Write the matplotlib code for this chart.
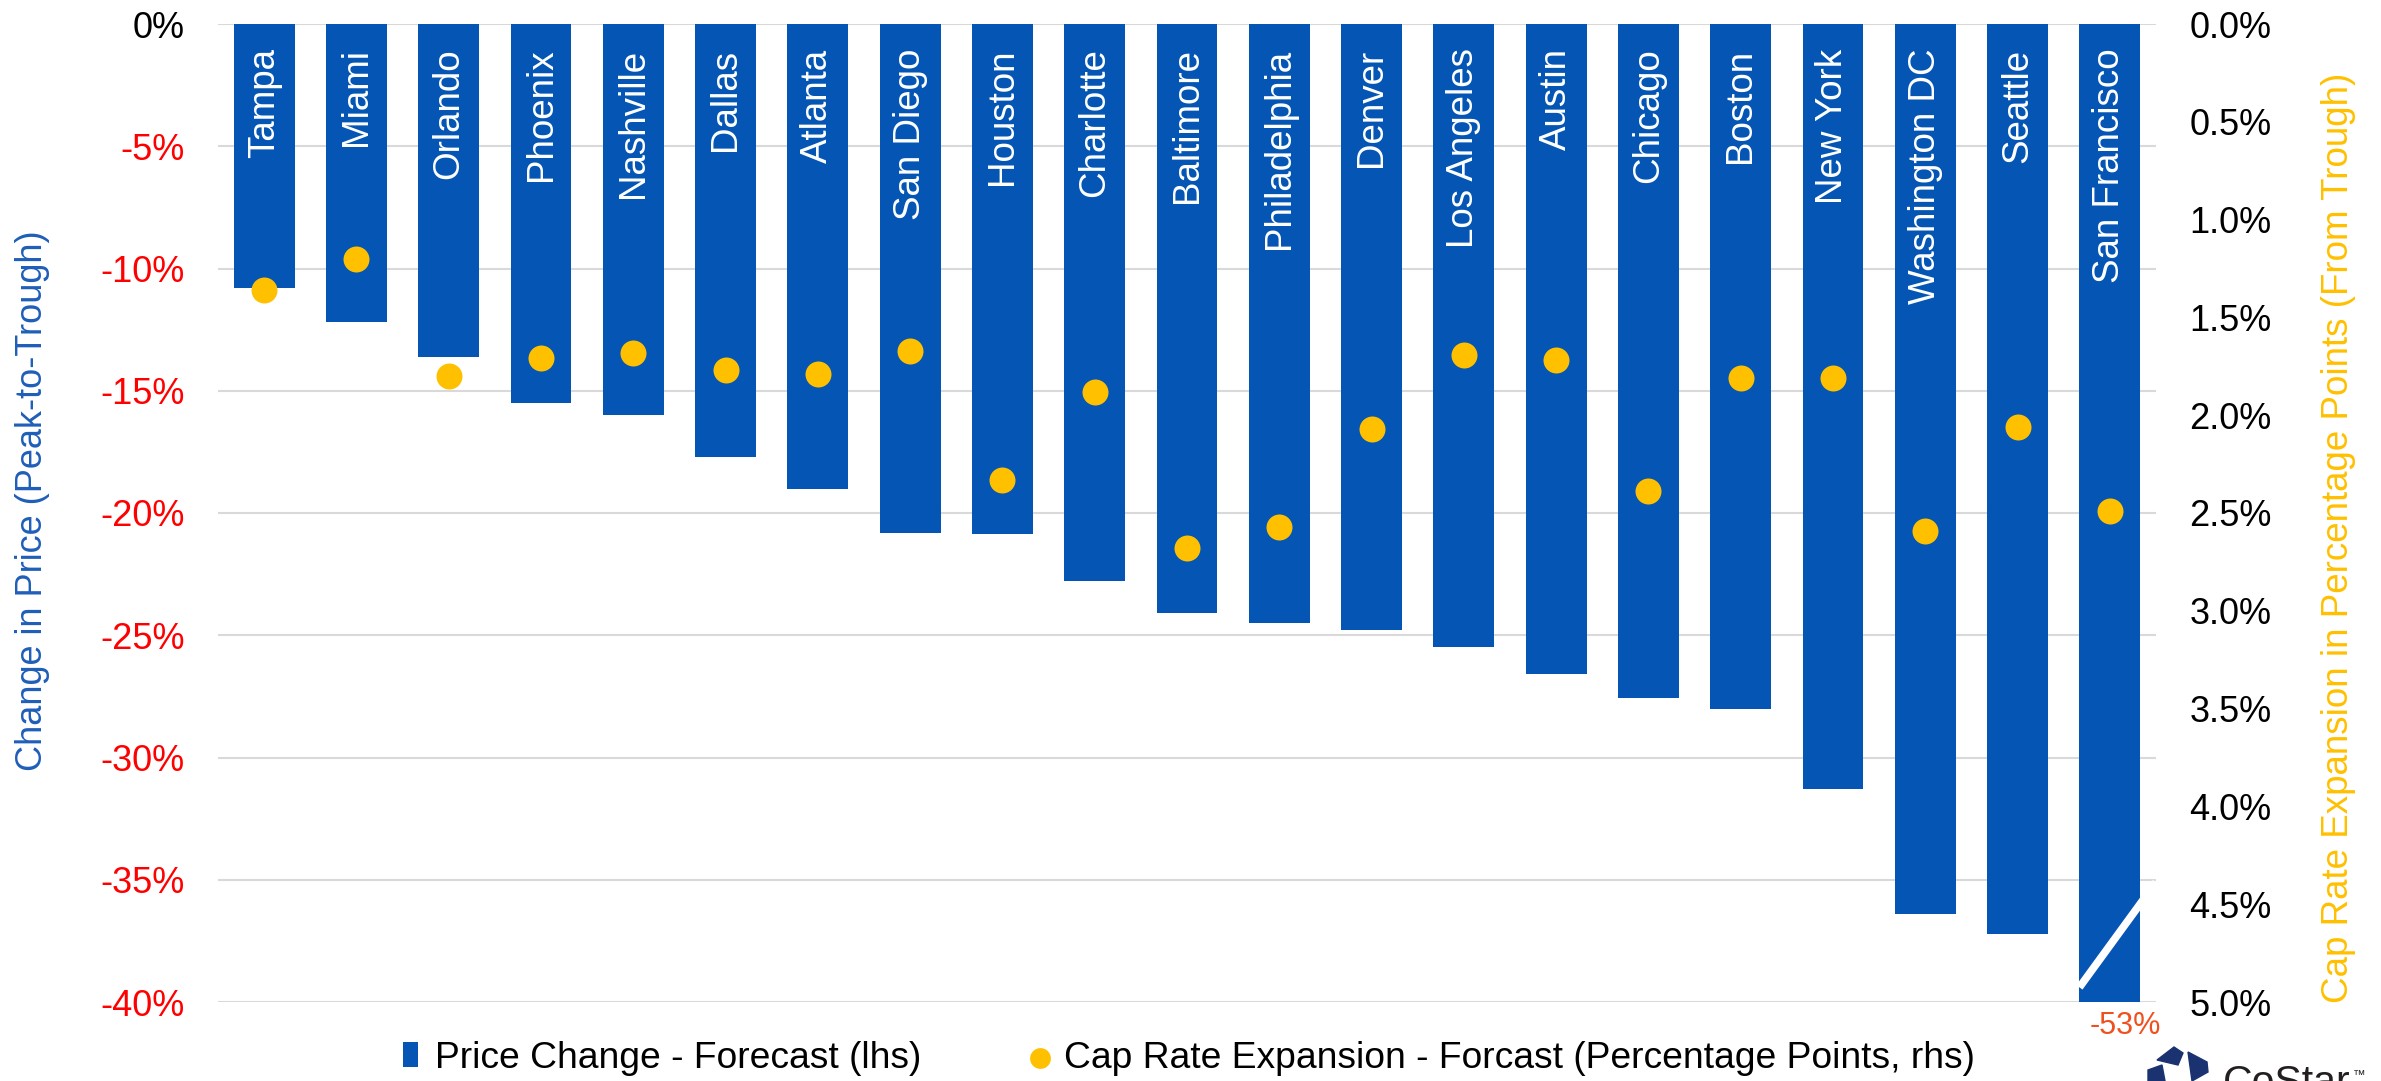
import matplotlib
matplotlib.use("Agg")
import matplotlib.pyplot as plt
from matplotlib.patches import Polygon
import numpy as np

# ---- data -------------------------------------------------------------
cities = ["Tampa", "Miami", "Orlando", "Phoenix", "Nashville", "Dallas",
          "Atlanta", "San Diego", "Houston", "Charlotte", "Baltimore",
          "Philadelphia", "Denver", "Los Angeles", "Austin", "Chicago",
          "Boston", "New York", "Washington DC", "Seattle", "San Francisco"]

# peak-to-trough price change, % (left axis)
price_change = [-10.8, -12.2, -13.6, -15.5, -16.0, -17.7, -19.0, -20.8,
                -20.85, -22.8, -24.1, -24.5, -24.8, -25.5, -26.6, -27.55,
                -28.0, -31.3, -36.4, -37.2, -53.0]

# cap rate expansion from trough, percentage points (right axis)
cap_rate = [1.36, 1.20, 1.80, 1.71, 1.68, 1.77, 1.79, 1.67, 2.33, 1.88,
            2.68, 2.57, 2.07, 1.69, 1.72, 2.39, 1.81, 1.81, 2.59, 2.06, 2.49]

left_ticks = [0, -5, -10, -15, -20, -25, -30, -35, -40]
left_labels = ["0%", "-5%", "-10%", "-15%", "-20%", "-25%", "-30%", "-35%", "-40%"]
right_ticks = [0.0, 0.5, 1.0, 1.5, 2.0, 2.5, 3.0, 3.5, 4.0, 4.5, 5.0]
right_labels = ["0.0%", "0.5%", "1.0%", "1.5%", "2.0%", "2.5%", "3.0%",
                "3.5%", "4.0%", "4.5%", "5.0%"]

# ---- style ------------------------------------------------------------
BLUE = "#0556B4"
GOLD = "#FFC000"
FONT = "Liberation Sans"
plt.rcParams["font.family"] = [FONT, "DejaVu Sans"]

W, H = 2381, 1081
fig = plt.figure(figsize=(W / 100, H / 100), dpi=100)


def fx(px):
    return px / W


def fy(py):
    return 1 - py / H


ax = fig.add_axes([fx(218), fy(1002), fx(2156) - fx(218), fy(24) - fy(1002)])
x = np.arange(len(cities))

bars = ax.bar(x, price_change, width=0.66, color=BLUE, zorder=2,
              label="Price Change - Forecast (lhs)")
ax.set_xlim(-0.5, len(cities) - 0.5)
ax.set_ylim(-40, 0)
ax.set_xticks([])
ax.set_yticks(left_ticks)
ax.set_yticklabels(left_labels)
for i, t in enumerate(ax.get_yticklabels()):
    t.set_color("black" if i == 0 else "#FF0000")
ax.tick_params(axis="y", length=0, labelsize=26, pad=24)
ax.grid(axis="y", color="#D9D9D9", lw=1.5)
ax.set_axisbelow(True)
for s in ax.spines.values():
    s.set_visible(False)

# city names inside the bars
for xi, name in zip(x, cities):
    ax.text(xi, -1.0, name, rotation=90, ha="center", va="top",
            color="white", fontsize=26.5, zorder=4)

# axis break on the San Francisco bar
sf = len(cities) - 1
ax.plot([sf - 0.33, sf + 0.5], [-39.4, -35.1], color="white", lw=5.5,
        solid_capstyle="butt", zorder=3, clip_on=False)
ax.annotate(f"{price_change[sf]:.0f}%", xy=(sf, -40), xytext=(11, -17),
            textcoords="offset points", ha="center", va="center",
            fontsize=22, color="#F0501E", annotation_clip=False)

# right axis: cap rate expansion
ax2 = ax.twinx()
ax2.set_ylim(5.0, 0.0)
ax2.set_yticks(right_ticks)
ax2.set_yticklabels(right_labels)
ax2.tick_params(axis="y", length=0, labelsize=26, pad=24, colors="black")
for s in ax2.spines.values():
    s.set_visible(False)
dots = ax2.scatter(x, cap_rate, s=350, color=GOLD, zorder=5, linewidths=0,
                   label="Cap Rate Expansion - Forcast (Percentage Points, rhs)")

# axis titles
fig.text(fx(33), fy(501), "Change in Price (Peak-to-Trough)", rotation=90,
         ha="center", va="center", fontsize=26, color="#1F5EB8")
fig.text(fx(2339), fy(538), "Cap Rate Expansion in Percentage Points (From Trough)",
         rotation=90, ha="center", va="center", fontsize=26.5, color=GOLD)

# legend
fig.legend(handles=[bars, dots], loc="center", bbox_to_anchor=(fx(1189), fy(1058)),
           ncol=2, frameon=False, fontsize=26.8, handlelength=0.4,
           handleheight=0.67, handletextpad=0.45, columnspacing=3.0,
           borderpad=0, markerscale=0.8)

# brand mark in the lower-right corner
NAVY = "#1B3270"
logo_shapes = [
    [(2157, 1060), (2174, 1047), (2183, 1053), (2178, 1065)],
    [(2188, 1052), (2207, 1062), (2208, 1072), (2192, 1081)],
    [(2148, 1070), (2162, 1065), (2165, 1081), (2148, 1081)],
]
for pts in logo_shapes:
    fig.patches.append(Polygon([(fx(px), fy(py)) for px, py in pts], closed=True,
                               transform=fig.transFigure, color=NAVY))
fig.text(fx(2223), fy(1094), "CoStar", ha="left", va="baseline",
         fontsize=29.5, color="#231F20")
fig.text(fx(2353), fy(1070), "™", ha="left", va="top", fontsize=9,
         color="#231F20")

fig.savefig("out.png", dpi=100)
